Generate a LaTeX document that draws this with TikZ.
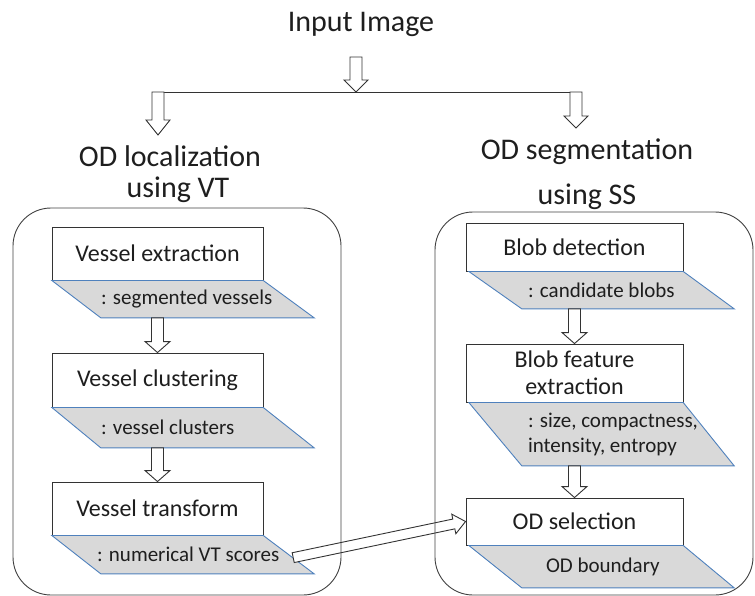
\documentclass[tikz,border=0pt]{standalone}
\usepackage{fontspec}
\setmainfont{Carlito}
\usetikzlibrary{calc}
\definecolor{edgeblue}{RGB}{79,129,189}
\definecolor{datagray}{RGB}{217,217,217}
\definecolor{ink}{RGB}{30,30,30}

\begin{document}
\begin{tikzpicture}[x=1pt,y=-1pt,
  heading/.style={font=\fontsize{30}{35}\selectfont, text=ink, inner sep=0pt, anchor=base},
  procbox/.style={draw=black!80, line width=0.9pt, fill=white, inner sep=0pt,
    minimum width=#1, font=\fontsize{24}{27}\selectfont, text=ink, align=center},
  databox/.style={inner sep=0pt, minimum width=#1, anchor=north},
  dataedge/.style={draw=edgeblue, line width=0.9pt, fill=datagray, line join=miter},
  datatext/.style={font=\fontsize{21}{25}\selectfont, text=ink, inner sep=0pt,
    anchor=west, align=left},
  % block arrow: shaft half width, head half width, head length
  hollow/.style n args={3}{draw=black!80, line width=0.9pt, fill=white, line join=miter,
    to path={
      let \p1=(\tikztostart), \p2=(\tikztotarget),
          \p3=($(\p2)!#3!(\p1)$)
      in ($(\p1)!#1!90:(\p2)$) -- ($(\p3)!#1!90:(\p2)$) -- ($(\p3)!#2!90:(\p2)$)
         -- (\p2) -- ($(\p3)!#2!-90:(\p2)$) -- ($(\p3)!#1!-90:(\p2)$)
         -- ($(\p1)!#1!-90:(\p2)$) -- cycle}},
  container/.style={draw=black!75, line width=0.9pt, rounded corners=38pt, inner sep=0pt}
]
\useasboundingbox (0,0) rectangle (755,596);

% ---- headings and the split ----
\node[heading] (input) at (361,32) {Input Image};
\node[heading] (loc1) at (170,167) {OD localization};
\node[heading] (loc2) at (178,198) {using VT};
\node[heading] (seg1) at (587,160) {OD segmentation};
\node[heading] (seg2) at (587,205) {using SS};

\coordinate (intail) at (356,57);
\coordinate (split) at (356,92);
\coordinate (brL) at (158,92);
\coordinate (brR) at (576,92);
\coordinate (locin) at (158,135);
\coordinate (segin) at (576,128);

\draw[black!80, line width=0.9pt] ($(brL)+(-6,0)$) -- ($(brR)+(6,0)$);
\draw[hollow={6pt}{12pt}{12pt}] (intail) to (split);
\draw[hollow={6pt}{12pt}{15pt}] (brL) to (locin);
\draw[hollow={6pt}{12pt}{12pt}] (brR) to (segin);

% ---- VT localization chain ----
\node[procbox=211pt, minimum height=53pt] (ve) at (157.5,253.5) {Vessel extraction};
\node[databox=211pt, minimum height=37pt] (vedat) at (ve.south) {};
\node[procbox=211pt, minimum height=54pt] (vc) at (157.5,380) {Vessel clustering};
\node[databox=211pt, minimum height=40pt] (vcdat) at (vc.south) {};
\node[procbox=211pt, minimum height=53pt] (vt) at (157.5,508.5) {Vessel transform};
\node[databox=211pt, minimum height=38pt] (vtdat) at (vt.south) {};

\foreach \d in {vedat,vcdat,vtdat}
  \draw[dataedge] (\d.north west) -- (\d.north east) -- ($(\d.south east)+(51,0)$)
    -- ($(\d.south west)+(49,0)$) -- cycle;

\node[datatext] (vetxt) at ($(vedat.west)+(49,0)$) {: segmented vessels};
\node[datatext] (vctxt) at ($(vcdat.west)+(49,0)$) {: vessel clusters};
\node[datatext] (vttxt) at ($(vtdat.west)+(45,0)$) {: numerical VT scores};

\draw[hollow={6pt}{12.5pt}{11pt}] (vedat.south) to (vc.north);
\draw[hollow={6pt}{12.5pt}{11pt}] (vcdat.south) to (vt.north);

% ---- SS segmentation chain ----
\node[procbox=217pt, minimum height=48pt] (bd) at (574.5,247) {Blob detection};
\node[databox=217pt, minimum height=37pt] (bddat) at (bd.south) {};
\node[procbox=217pt, minimum height=58pt] (bf) at (574.5,373) {Blob feature\\extraction};
\node[databox=217pt, minimum height=63pt] (bfdat) at (bf.south) {};
\node[procbox=217pt, minimum height=47pt] (os) at (574.5,521.5) {OD selection};
\node[databox=217pt, minimum height=42pt] (osdat) at (os.south) {};

\foreach \d in {bddat,bfdat,osdat}
  \draw[dataedge] ($(\d.north west)+(3,0)$) -- (\d.north east) -- ($(\d.south east)+(51,0)$)
    -- ($(\d.south west)+(56,0)$) -- cycle;

\node[datatext] (bdtxt) at ($(bddat.west)+(62,0)$) {: candidate blobs};
\node[datatext] (bftxt) at ($(bfdat.west)+(62,0)$) {: size, compactness,\\intensity, entropy};
\node[datatext] (ostxt) at ($(osdat.west)+(80,0)$) {OD boundary};

\draw[hollow={6pt}{12.5pt}{11pt}] (bddat.south) to (bf.north);
\draw[hollow={6pt}{12.5pt}{11pt}] (bfdat.south) to (os.north);

% ---- VT scores feed the OD selection ----
\coordinate (vtout) at ($(vtdat.east)+(30,3)$);
\draw[hollow={5pt}{10pt}{12pt}] (vtout) to (os.west);

% ---- the two stage frames ----
\node[container, minimum width=328pt, minimum height=387pt] (vtframe) at (177,401.5) {};
\node[container, minimum width=318pt, minimum height=383pt] (ssframe) at (594,403.5) {};
\end{tikzpicture}
\end{document}
